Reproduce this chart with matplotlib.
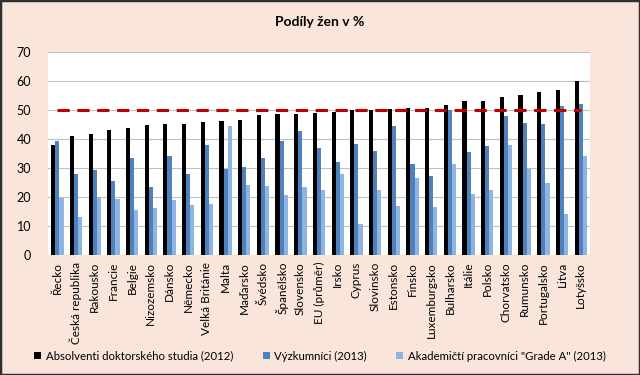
import numpy as np
import matplotlib
matplotlib.use("Agg")
import matplotlib.pyplot as plt
from matplotlib.patches import Rectangle

countries = ["Řecko", "Česká republika", "Rakousko", "Francie", "Belgie", "Nizozemsko",
             "Dánsko", "Německo", "Velká Británie", "Malta", "Maďarsko", "Švédsko",
             "Španělsko", "Slovensko", "EU (průměr)", "Irsko", "Cyprus", "Slovinsko",
             "Estonsko", "Finsko", "Luxemburgsko", "Bulharsko", "Itálie", "Polsko",
             "Chorvatsko", "Rumunsko", "Portugalsko", "Litva", "Lotyšsko"]

absolventi = [38.1, 41.2, 41.7, 43.3, 43.7, 44.9, 45.3, 45.3, 46.0, 46.4, 46.5, 48.3,
              48.5, 48.8, 49.0, 49.3, 49.9, 49.9, 50.4, 50.8, 50.8, 51.6, 53.0, 53.0,
              54.6, 55.3, 56.2, 56.9, 59.9]
vyzkumnici = [39.2, 28.1, 29.5, 25.4, 33.4, 23.5, 34.3, 27.9, 38.1, 29.8, 30.2, 33.4,
              39.2, 42.7, 36.8, 32.2, 38.2, 35.8, 44.4, 31.4, 27.2, 49.9, 35.6, 37.5,
              47.9, 45.6, 45.3, 51.3, 52.0]
grade_a = [19.5, 13.0, 20.1, 19.3, 15.4, 16.1, 18.9, 17.2, 17.6, 44.4, 24.0, 23.8,
           20.8, 23.5, 22.4, 28.1, 10.7, 22.4, 17.0, 26.5, 16.4, 31.4, 21.0, 22.4,
           37.9, 29.8, 24.9, 14.2, 34.2]
target = [50] * len(countries)

labels = ["Absolventi doktorského studia (2012)", "Výzkumníci (2013)",
          'Akademičtí pracovníci "Grade A" (2013)']
colors = ["#000000", "#4F81BD", "#8DB4E2"]
bg = "#F9E5DA"

plt.rcParams["font.family"] = ["Lato", "DejaVu Sans"]

fig = plt.figure(figsize=(6.4, 3.75), dpi=100, facecolor=bg)
ax = fig.add_axes([0.075, 0.32, 0.847, 0.541])
ax.set_facecolor("white")

x = np.arange(len(countries))
w = 0.22
for i, (vals, c, lab) in enumerate(zip([absolventi, vyzkumnici, grade_a], colors, labels)):
    ax.bar(x + (i - 1) * w, vals, width=w, color=c, label=lab, zorder=2)

ax.plot(x, target, color="#C00000", lw=2.2, dashes=(4, 2.5), zorder=3)

ax.set_xlim(-0.5, len(countries) - 0.5)
ax.set_ylim(0, 70)
ax.set_yticks(range(0, 71, 10))
ax.set_xticks(x)
ax.set_xticklabels(countries, rotation=90, fontsize=8.5)
ax.tick_params(axis="y", labelsize=9, length=0, pad=12)
ax.tick_params(axis="x", length=0, pad=5)
ax.grid(axis="y", color="#C0C0C0", lw=0.8, zorder=0)
for s in ax.spines.values():
    s.set_visible(False)

fig.text(0.5, 0.94, "Podíly žen v %", ha="center", va="center", fontsize=10, fontweight="bold")

handles, labs = ax.get_legend_handles_labels()
fig.legend(handles[:3], labs[:3], loc="center", bbox_to_anchor=(0.5, 0.05), ncol=3,
           frameon=False, fontsize=8.2, handlelength=0.6, handleheight=0.6,
           handletextpad=0.4, columnspacing=2.6)

fig.patches.append(Rectangle((0, 0), 1, 1, transform=fig.transFigure, fill=False,
                             edgecolor="#303030", lw=2.5))

fig.savefig("out.png", dpi=100, facecolor=bg)
